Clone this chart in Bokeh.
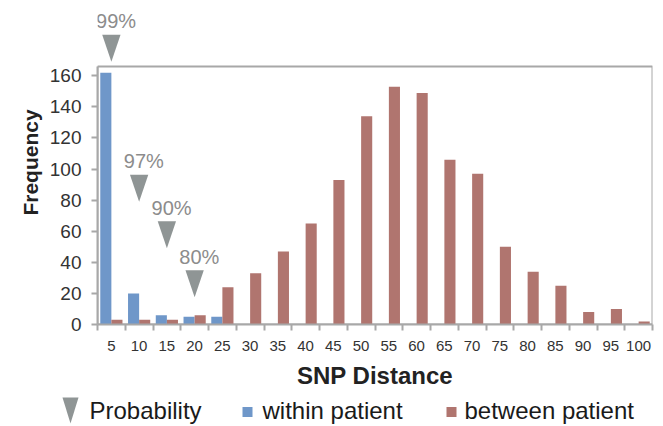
from bokeh.plotting import figure
from bokeh.models import Range1d, FixedTicker, Label
from bokeh.core.properties import value
from bokeh.embed import file_html
from bokeh.resources import INLINE

# ---- data ----
categories = ["5", "10", "15", "20", "25", "30", "35", "40", "45", "50",
              "55", "60", "65", "70", "75", "80", "85", "90", "95", "100"]
within_patient = [162, 20, 6, 5, 5, 0, 0, 0, 0, 0,
                  0, 0, 0, 0, 0, 0, 0, 0, 0, 0]
between_patient = [3, 3, 3, 6, 24, 33, 47, 65, 93, 134,
                   153, 149, 106, 97, 50, 34, 25, 8, 10, 2]
prob_labels = ["99%", "97%", "90%", "80%"]
prob_categories = ["5", "10", "15", "20"]
prob_tips = [169, 79, 49, 17.5]
y_ticks = [0, 20, 40, 60, 80, 100, 120, 140, 160]
legend_labels = ["Probability", "within patient", "between patient"]

# ---- style ----
BLUE = "#6F97C9"
RED = "#B0756F"
TRI = "#8F9595"
PCT = "#8C8C8C"
GRAY = "#A8A8A8"
FONT = "Liberation Sans"

Y_BOX = 166                         # top of the drawn plot box
FRAME_TOP_PX, FRAME_BOT_PX = 0, 324
BOX_TOP_PX = 66
PX_PER_UNIT = (FRAME_BOT_PX - BOX_TOP_PX) / Y_BOX
Y_END = (FRAME_BOT_PX - FRAME_TOP_PX) / PX_PER_UNIT
TRI_H = 27 / PX_PER_UNIT            # triangle height in data units
TRI_HW = 0.33                       # triangle half width in category units
TXT_GAP = 13.5 / PX_PER_UNIT        # triangle top -> label centre

MAIN_H = 396
LEG_H = 30

pos = {c: i + 1 for i, c in enumerate(categories)}
xc = [pos[c] for c in categories]

p = figure(width=663, height=MAIN_H,
           x_range=Range1d(0.5, len(categories) + 0.5), y_range=Range1d(0, Y_END),
           output_backend="svg", toolbar_location=None,
           min_border_left=97, min_border_right=11,
           min_border_top=0, min_border_bottom=MAIN_H - FRAME_BOT_PX)

p.background_fill_color = "white"
p.border_fill_color = "white"
p.outline_line_color = None
p.xgrid.visible = False
p.ygrid.visible = False

# plot box
p.quad(left=[0.5], right=[len(categories) + 0.5], bottom=[0], top=[Y_BOX],
       fill_color=None, line_color=GRAY, line_width=2)

# bars
p.vbar(x=[x - 0.2 for x in xc], top=within_patient, width=0.4,
       fill_color=BLUE, line_color=None)
p.vbar(x=[x + 0.2 for x in xc], top=between_patient, width=0.4,
       fill_color=RED, line_color=None)

# probability arrows
tx = [pos[c] for c in prob_categories]
xs = [[x - TRI_HW, x + TRI_HW, x] for x in tx]
ys = [[t + TRI_H, t + TRI_H, t] for t in prob_tips]
p.patches(xs, ys, fill_color=TRI, line_color=None)
for x, t, lab in zip(tx, prob_tips, prob_labels):
    p.add_layout(Label(x=x + 0.17, y=t + TRI_H + TXT_GAP, text=lab,
                       text_align="center", text_baseline="middle",
                       text_font=FONT, text_font_size="20px", text_color=PCT))

# axes
xa = p.xaxis[0]
xa.ticker = FixedTicker(ticks=xc, minor_ticks=[x - 0.5 for x in xc] + [xc[-1] + 0.5])
xa.major_label_overrides = {x: c for x, c in zip(xc, categories)}
xa.major_tick_out = 0
xa.major_tick_in = 0
xa.minor_tick_out = 6
xa.minor_tick_in = 0
xa.minor_tick_line_color = GRAY
xa.minor_tick_line_width = 2
xa.axis_line_color = GRAY
xa.axis_line_width = 2
xa.major_label_text_font = FONT
xa.major_label_text_font_size = "15px"
xa.major_label_text_color = "#333333"
xa.major_label_standoff = 10
xa.axis_label = "SNP Distance"
xa.axis_label_text_font = FONT
xa.axis_label_text_font_size = "24px"
xa.axis_label_text_font_style = "bold"
xa.axis_label_text_color = "#222222"
xa.axis_label_standoff = 8

ya = p.yaxis[0]
ya.bounds = (0, Y_BOX)
ya.ticker = FixedTicker(ticks=y_ticks, minor_ticks=[])
ya.major_tick_out = 6
ya.major_tick_in = 0
ya.major_tick_line_color = GRAY
ya.major_tick_line_width = 2
ya.axis_line_color = GRAY
ya.axis_line_width = 2
ya.major_label_text_font = FONT
ya.major_label_text_font_size = "19px"
ya.major_label_text_color = "#333333"
ya.major_label_standoff = 10
ya.axis_label = "Frequency"
ya.axis_label_text_font = FONT
ya.axis_label_text_font_size = "21px"
ya.axis_label_text_font_style = "bold"
ya.axis_label_text_color = "#222222"
ya.axis_label_standoff = 5

# ---- legend strip (pixel-like coordinates, y up) ----
lg = figure(width=663, height=LEG_H, x_range=Range1d(0, 663), y_range=Range1d(0, LEG_H),
            output_backend="svg", toolbar_location=None,
            x_axis_type=None, y_axis_type=None,
            min_border_left=0, min_border_right=0, min_border_top=0, min_border_bottom=0)
lg.outline_line_color = None
lg.background_fill_color = "white"
lg.border_fill_color = "white"

lg.patch([62, 78, 70], [29, 29, 3], fill_color=TRI, line_color=None)
lg.rect(x=[247, 451], y=[14.5, 14.5], width=10, height=10,
        fill_color=[BLUE, RED], line_color=None)
lg.text(x=[89, 262, 464], y=[16, 16, 16], text=legend_labels,
        text_font=value(FONT), text_font_size="24px", text_color="#1a1a1a",
        text_align="left", text_baseline="middle")

open("out.html", "w").write(file_html([p, lg], INLINE))
